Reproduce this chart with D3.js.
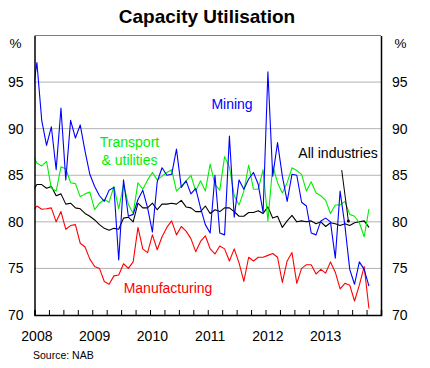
<!DOCTYPE html>
<html>
<head>
<meta charset="utf-8">
<script src="https://cdnjs.cloudflare.com/ajax/libs/d3/7.8.5/d3.min.js"></script>
<style>
  body { margin: 0; background: #fff; }
  svg { display: block; font-family: "Liberation Sans", Arial, sans-serif; }
</style>
</head>
<body>
<svg id="chart" width="430" height="368"></svg>
<script>
// Monthly observations, Dec 2007 .. Oct 2013 (first point sits just left of the axis and is clipped)
const firstMonth = new Date(2007, 11, 1);

const mining = [93.3,
  97.1, 90.9, 88.2, 90.2, 85.6, 92.2, 84.5, 90.9, 89.0, 90.4, 87.6, 85.1,
  83.8, 82.8, 82.2, 83.4, 83.7, 75.9, 84.5, 80.6, 80.8, 82.4, 83.4, 81.5,
  78.9, 84.3, 85.8, 85.0, 85.1, 87.8, 83.7, 84.4, 83.0, 83.6, 81.5, 79.7,
  78.8, 85.0, 78.8, 78.6, 89.2, 80.5, 84.5, 83.5, 84.6, 85.3, 84.0, 81.0,
  96.1, 84.9, 88.5, 84.9, 82.2, 85.1, 85.0, 82.1, 81.7, 78.8, 78.6, 80.1,
  80.4, 80.0, 76.1, 83.3, 79.6, 74.9, 73.3, 75.7, 74.9, 73.1];

const transport = [87.3,
  86.3, 86.0, 86.5, 83.6, 83.3, 85.9, 85.7, 84.2, 84.1, 82.7, 83.0, 83.2,
  81.3, 82.0, 82.4, 82.1, 83.8, 81.4, 84.0, 81.9, 80.9, 84.2, 83.5, 84.5,
  85.3, 84.5, 84.9, 85.3, 85.6, 83.3, 83.8, 84.4, 85.0, 83.3, 84.4, 83.3,
  86.2, 84.0, 83.4, 87.0, 85.9, 82.8, 81.8, 83.3, 86.1, 83.5, 83.5, 85.6,
  80.1, 86.0, 84.2, 83.1, 84.2, 85.8, 85.5, 85.1, 83.3, 84.3, 83.1, 82.8,
  82.3, 80.9, 81.8, 81.8, 82.2, 80.8, 80.6, 79.9, 78.4, 81.4];

const allIndustries = [83.2,
  84.0, 84.0, 83.6, 83.8, 82.8, 83.0, 81.9, 82.0, 81.5, 81.4, 80.9, 80.6,
  80.2, 79.7, 79.3, 79.1, 79.3, 79.2, 80.4, 80.5, 80.0, 82.0, 81.5, 81.5,
  82.0, 81.3, 81.9, 81.9, 82.0, 81.9, 82.3, 81.6, 81.5, 81.1, 81.1, 81.7,
  80.9, 81.3, 81.1, 81.5, 81.5, 81.1, 80.6, 80.6, 81.0, 81.0, 81.2, 80.9,
  81.6, 80.4, 80.6, 79.4, 80.1, 80.7, 80.0, 80.1, 80.0, 80.1, 79.8, 80.0,
  79.5, 79.9, 79.8, 79.6, 79.8, 79.6, 79.9, 80.0, 80.1, 79.4];

const manufacturing = [81.1,
  81.7, 81.35, 81.4, 81.5, 80.0, 81.1, 79.2, 79.6, 79.7, 77.7, 77.3, 76.0,
  75.2, 75.0, 73.6, 73.3, 74.2, 74.3, 75.5, 75.0, 75.7, 79.4, 77.1, 76.7,
  78.6, 77.0, 78.4, 79.4, 80.1, 78.6, 79.5, 79.0, 78.2, 76.8, 77.9, 78.5,
  77.1, 76.55, 77.4, 77.1, 75.8, 77.1, 75.6, 73.6, 76.2, 75.8, 76.2, 76.2,
  76.4, 76.6, 76.2, 73.5, 75.8, 76.7, 73.4, 75.0, 75.4, 75.4, 74.4, 74.9,
  74.5, 75.7, 74.6, 72.8, 73.4, 73.2, 71.5, 73.2, 75.2, 70.7];

const yearLabels = ["2008", "2009", "2010", "2011", "2012", "2013"];
const yTicks = [70, 75, 80, 85, 90, 95];
const gridValues = [75, 80, 85, 90, 95];

const seriesNames = ["All industries", "Manufacturing", "Transport", "Mining"];
const seriesColors = ["#000000", "#ff0000", "#00ee00", "#0000ff"];

// ---------------------------------------------------------------
(function draw() {
const svg = d3.select("#chart");
const pL = 34.5, pR = 381, pT = 35.5, pB = 315;

// x in fractional years; each month is plotted at its mid-point
const x = d3.scaleLinear().domain([2008, 2014]).range([pL, pR]);
const y = d3.scaleLinear().domain([70, 100]).range([pB, pT]);

const monthPos = i => {
  const d = d3.timeMonth.offset(firstMonth, i);
  return d.getFullYear() + (d.getMonth() + 0.5) / 12;
};

// title
svg.append("text")
  .attr("x", 207).attr("y", 23)
  .attr("text-anchor", "middle")
  .attr("font-size", 19).attr("font-weight", "bold")
  .text("Capacity Utilisation");

// gridlines
svg.append("g").selectAll("line").data(gridValues).join("line")
  .attr("x1", pL).attr("x2", pR)
  .attr("y1", d => y(d)).attr("y2", d => y(d))
  .attr("stroke", "#b4b4b4").attr("stroke-width", 1);

// clip
svg.append("defs").append("clipPath").attr("id", "plotclip")
  .append("rect").attr("x", pL).attr("y", pT)
  .attr("width", pR - pL).attr("height", pB - pT);

const line = d3.line().x((d, i) => x(monthPos(i))).y(d => y(d));
const seriesData = [allIndustries, manufacturing, transport, mining];

svg.append("g").attr("clip-path", "url(#plotclip)")
  .selectAll("path").data(seriesData).join("path")
  .attr("d", d => line(d))
  .attr("fill", "none")
  .attr("stroke", (d, i) => seriesColors[i])
  .attr("stroke-width", 1.1)
  .attr("stroke-linejoin", "round");

// frame: top grey, others black
svg.append("line").attr("x1", pL).attr("x2", pR).attr("y1", pT).attr("y2", pT)
  .attr("stroke", "#7f7f7f").attr("stroke-width", 1.2);

// y axes (left and right)
const yAxisL = d3.axisLeft(y).tickValues(yTicks).tickSize(0).tickPadding(11).tickFormat(d3.format("d"));
const yAxisR = d3.axisRight(y).tickValues(yTicks).tickSize(0).tickPadding(11).tickFormat(d3.format("d"));
const gl = svg.append("g").attr("transform", `translate(${pL},0)`).call(yAxisL);
const gr = svg.append("g").attr("transform", `translate(${pR},0)`).call(yAxisR);
[gl, gr].forEach(g => {
  g.select(".domain").attr("stroke", "#000").attr("stroke-width", 1.5);
  g.selectAll("text").attr("font-size", 14).attr("fill", "#000")
    .attr("font-family", "Liberation Sans, Arial, sans-serif");
});

// x axis: quarterly ticks pointing up into plot
const quarterTicks = d3.range(2008, 2014.01, 0.25);
const gx = svg.append("g").attr("transform", `translate(0,${pB})`)
  .call(d3.axisBottom(x).tickValues(quarterTicks).tickSize(-5).tickFormat(""));
gx.select(".domain").attr("stroke", "#000").attr("stroke-width", 1.5);
gx.selectAll(".tick line").attr("stroke", "#000").attr("stroke-width", 1);

svg.append("g").selectAll("text").data(yearLabels).join("text")
  .attr("x", d => x(+d + 1 / 24)).attr("y", 341)
  .attr("text-anchor", "middle").attr("font-size", 14)
  .text(d => d);

// % labels
svg.append("text").attr("x", 15.5).attr("y", 48).attr("text-anchor", "middle")
  .attr("font-size", 13.5).text("%");
svg.append("text").attr("x", 400.5).attr("y", 48).attr("text-anchor", "middle")
  .attr("font-size", 13.5).text("%");

// series labels
svg.append("text").attr("x", 232).attr("y", 109).attr("text-anchor", "middle")
  .attr("font-size", 14).attr("fill", seriesColors[3]).text("Mining");
svg.append("text").attr("x", 129.5).attr("y", 146.5).attr("text-anchor", "middle")
  .attr("font-size", 14).attr("fill", seriesColors[2]).text("Transport");
svg.append("text").attr("x", 129.5).attr("y", 165).attr("text-anchor", "middle")
  .attr("font-size", 14).attr("fill", seriesColors[2]).text("& utilities");
svg.append("text").attr("x", 338).attr("y", 158).attr("text-anchor", "middle")
  .attr("font-size", 14).attr("fill", seriesColors[0]).text("All industries");
svg.append("text").attr("x", 168).attr("y", 293).attr("text-anchor", "middle")
  .attr("font-size", 14).attr("fill", seriesColors[1]).text("Manufacturing");

// leader line for All industries
const leaderFrom = [2013.32, 85.55], leaderTo = [2013.435, 80.1];
svg.append("line")
  .attr("x1", x(leaderFrom[0])).attr("y1", y(leaderFrom[1]))
  .attr("x2", x(leaderTo[0])).attr("y2", y(leaderTo[1]))
  .attr("stroke", "#000").attr("stroke-width", 1);
svg.append("circle").attr("cx", x(leaderTo[0])).attr("cy", y(leaderTo[1]))
  .attr("r", 1.5).attr("fill", "#000");

// source
svg.append("text").attr("x", 33).attr("y", 359).attr("font-size", 10.5).text("Source: NAB");
})();
</script>
</body>
</html>
